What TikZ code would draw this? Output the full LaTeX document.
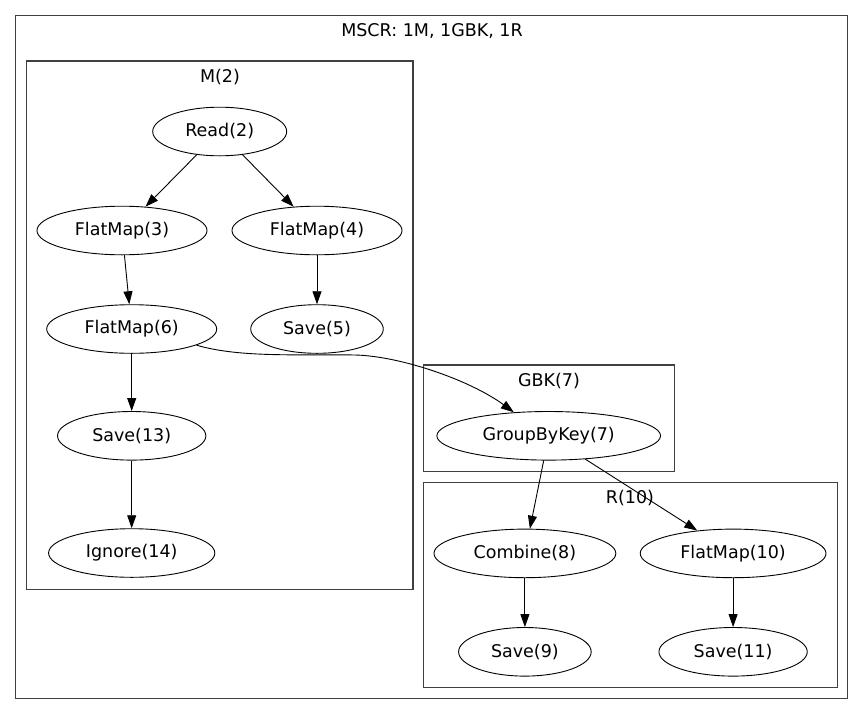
\documentclass[tikz,border=0pt]{standalone}
\usepackage{fontspec}
\setmainfont{DejaVu Sans}
\usetikzlibrary{arrows.meta,shapes,positioning}
\tikzset{
  op/.style      = {draw, ellipse, thin, line width=0.9pt, inner xsep=13pt,
                    minimum height=48.6pt, font=\fontsize{17.5}{20}\selectfont},
  cluster/.style = {draw=black!75, line width=1.3pt},
  title/.style   = {font=\fontsize{17.5}{20}\selectfont}
}

\begin{document}
\begin{tikzpicture}[x=1pt, y=-1pt,
  every edge/.style={draw, ->, line width=0.9pt},
  >={Triangle[length=13pt, width=9pt]}]
\useasboundingbox (0,0) rectangle (864,715);

% clusters
\draw[cluster] (15.7,15.7) rectangle (847.7,698.3);
\draw[cluster] (26.3,61) rectangle (413,589.3);
\draw[cluster] (423.7,365) rectangle (674.7,471.7);
\draw[cluster] (423.7,482.7) rectangle (837.3,687.7);
\node[title] (mscr) at (432,31.5) {MSCR: 1M, 1GBK, 1R};
\node[title] (m2) at (220,76.7) {M(2)};
\node[title] (gbk7) at (549,380.7) {GBK(7)};
\node[title] (r10) at (630,498) {R(10)};

% mapper
\node[op] (r2) at (219.7,131.5) {Read(2)};
\node[op, below of = r2, node distance=99pt, xshift=-97.7pt] (f3) {FlatMap(3)};
\node[op, below of = r2, node distance=99pt, xshift=97.3pt] (f4) {FlatMap(4)};
\node[op, below of = f3, node distance=98.5pt, xshift=9.7pt] (f6) {FlatMap(6)};
\node[op, below of = f4, node distance=98.5pt] (s5) {Save(5)};
\node[op, below of = f6, node distance=106.8pt] (s13) {Save(13)};
\node[op, below of = s13, node distance=117.2pt] (i14) {Ignore(14)};

% group by key and reducer
\node[op, right of = s13, node distance=417pt] (gbk) {GroupByKey(7)};
\node[op, below of = gbk, node distance=117.6pt, xshift=-23.8pt] (c8) {Combine(8)};
\node[op, right of = c8, node distance=208.2pt] (f10) {FlatMap(10)};
\node[op, below of = c8, node distance=98.4pt] (s9) {Save(9)};
\node[op, below of = f10, node distance=98.4pt] (s11) {Save(11)};

\draw (r2) edge (f3) (r2) edge (f4);
\draw (f3) edge (f6) (f4) edge (s5);
\draw (f6) edge (s13) (s13) edge (i14);
\draw (gbk) edge (c8) (gbk) edge (f10);
\draw (c8) edge (s9) (f10) edge (s11);

\draw[->, line width=0.9pt] (f6.-14) .. controls (240,358) and (300,354) .. (355,355)
  .. controls (400,356) and (470,380) .. (gbk.146);
\end{tikzpicture}
\end{document}
